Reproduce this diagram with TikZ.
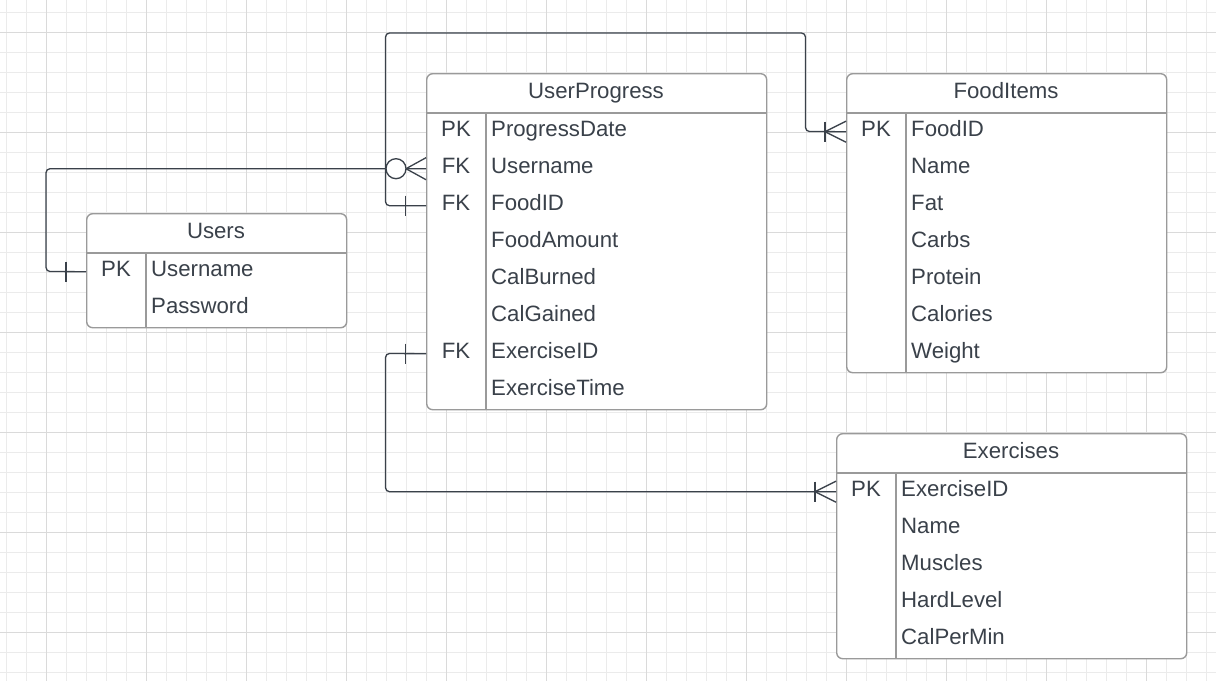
\documentclass[tikz,border=0pt]{standalone}
\usepackage{fontspec}
\setmainfont{Liberation Sans}
\usetikzlibrary{calc}
\definecolor{txt}{HTML}{3A414A}
\definecolor{bord}{HTML}{9A9A9A}
\definecolor{gminor}{HTML}{EBEBEB}
\definecolor{gmajor}{HTML}{DADADA}
\definecolor{lnk}{HTML}{3A414A}
\begin{document}
\begin{tikzpicture}[x=1pt,y=-1pt,
  tablebox/.style={draw=bord, line width=1.4pt, fill=white, rounded corners=6pt, inner sep=0pt, anchor=north west},
  rowbox/.style={inner sep=0pt, minimum height=37pt, anchor=north west},
  sepline/.style={draw=bord, line width=1.4pt},
  lbl/.style={font=\fontsize{22.2}{26}\selectfont, text=txt, inner sep=0pt},
  keylbl/.style={lbl, anchor=base},
  attrlbl/.style={lbl, anchor=base west},
  hdrlbl/.style={lbl, anchor=base},
  link/.style={draw=lnk, line width=1.3pt, rounded corners=4pt},
  tick/.style={draw=lnk, line width=1.3pt},
  gridminor/.style={draw=gminor, line width=1pt},
  gridmajor/.style={draw=gmajor, line width=1pt}
]
\useasboundingbox (0,0) rectangle (1216,681);
\fill[white] (0,0) rectangle (1216,681);
% grid
\foreach \gx in {6.5,26.5,...,1210} \draw[gridminor] (\gx,0) -- (\gx,681);
\foreach \gy in {12,32,...,680} \draw[gridminor] (0,\gy) -- (1216,\gy);
\foreach \gx in {46.5,146.5,...,1210} \draw[gridmajor] (\gx,0) -- (\gx,681);
\foreach \gy in {32,132,...,680} \draw[gridmajor] (0,\gy) -- (1216,\gy);

% UserProgress
\node[tablebox, minimum width=340pt, minimum height=336pt] (up) at (426,73) {};
\node[hdrlbl] (up-title) at (596,98) {UserProgress};
\draw[sepline] (426,113) -- (766,113);
\draw[sepline] (486,113) -- (486,409);
\foreach \k/\n/\i in {PK/ProgressDate/1, FK/Username/2, FK/FoodID/3, /FoodAmount/4, /CalBurned/5, /CalGained/6, FK/ExerciseID/7, /ExerciseTime/8} {
  \node[rowbox, minimum width=340pt] (up-r\i) at (426,{113+37*(\i-1)}) {};
  \node[keylbl] (up-k\i) at (456,{136.5+37*(\i-1)}) {\k};
  \node[attrlbl] (up-a\i) at (491,{136.5+37*(\i-1)}) {\n};
}

% FoodItems
\node[tablebox, minimum width=320pt, minimum height=299pt] (fi) at (846,73) {};
\node[hdrlbl] (fi-title) at (1006,98) {FoodItems};
\draw[sepline] (846,113) -- (1166,113);
\draw[sepline] (906,113) -- (906,372);
\foreach \k/\n/\i in {PK/FoodID/1, /Name/2, /Fat/3, /Carbs/4, /Protein/5, /Calories/6, /Weight/7} {
  \node[rowbox, minimum width=320pt] (fi-r\i) at (846,{113+37*(\i-1)}) {};
  \node[keylbl] (fi-k\i) at (876,{136.5+37*(\i-1)}) {\k};
  \node[attrlbl] (fi-a\i) at (911,{136.5+37*(\i-1)}) {\n};
}

% Users
\node[tablebox, minimum width=260pt, minimum height=114pt] (us) at (86,213) {};
\node[hdrlbl] (us-title) at (216,238) {Users};
\draw[sepline] (86,253) -- (346,253);
\draw[sepline] (146,253) -- (146,327);
\foreach \k/\n/\i in {PK/Username/1, /Password/2} {
  \node[rowbox, minimum width=260pt] (us-r\i) at (86,{253+37*(\i-1)}) {};
  \node[keylbl] (us-k\i) at (116,{276.5+37*(\i-1)}) {\k};
  \node[attrlbl] (us-a\i) at (151,{276.5+37*(\i-1)}) {\n};
}

% Exercises
\node[tablebox, minimum width=350pt, minimum height=225pt] (ex) at (836,433) {};
\node[hdrlbl] (ex-title) at (1011,458) {Exercises};
\draw[sepline] (836,473) -- (1186,473);
\draw[sepline] (896,473) -- (896,658);
\foreach \k/\n/\i in {PK/ExerciseID/1, /Name/2, /Muscles/3, /HardLevel/4, /CalPerMin/5} {
  \node[rowbox, minimum width=350pt] (ex-r\i) at (836,{473+37*(\i-1)}) {};
  \node[keylbl] (ex-k\i) at (866,{496.5+37*(\i-1)}) {\k};
  \node[attrlbl] (ex-a\i) at (901,{496.5+37*(\i-1)}) {\n};
}

% connector 1: Users.Username -> UserProgress.Username (one -- zero or many)
\coordinate (c1a) at (46,271.5);
\draw[link] (us-r1.west) -- (c1a) |- (up-r2.west);
\draw[tick] ($(us-r1.west)+(-20,-10)$) -- ($(us-r1.west)+(-20,10)$);
\draw[tick] ($(up-r2.west)+(-20,0)$) -- ($(up-r2.west)+(0,-11)$);
\draw[tick] ($(up-r2.west)+(-20,0)$) -- ($(up-r2.west)+(0,11)$);
\draw[tick, fill=white] ($(up-r2.west)+(-30,0)$) circle (10pt);

% connector 2: UserProgress.FoodID -> FoodItems.FoodID (one -- one or many)
\coordinate (c2a) at (385.5,33);
\coordinate (c2b) at (805.5,131.5);
\draw[link] (up-r3.west) -| (c2a) -| (c2b) -- (fi-r1.west);
\draw[tick] ($(up-r3.west)+(-20.5,-10)$) -- ($(up-r3.west)+(-20.5,10)$);
\draw[tick] ($(fi-r1.west)+(-21,-10)$) -- ($(fi-r1.west)+(-21,10)$);
\draw[tick] ($(fi-r1.west)+(-21,0)$) -- ($(fi-r1.west)+(0,-10.5)$);
\draw[tick] ($(fi-r1.west)+(-21,0)$) -- ($(fi-r1.west)+(0,10.5)$);

% connector 3: UserProgress.ExerciseID -> Exercises.ExerciseID (one -- one or many)
\coordinate (c3a) at (385.5,353.5);
\draw[link] (up-r7.west) -- (c3a) |- (ex-r1.west);
\draw[tick] ($(up-r7.west)+(-20.5,-10)$) -- ($(up-r7.west)+(-20.5,10)$);
\draw[tick] ($(ex-r1.west)+(-21,-10)$) -- ($(ex-r1.west)+(-21,10)$);
\draw[tick] ($(ex-r1.west)+(-21,0)$) -- ($(ex-r1.west)+(0,-10.5)$);
\draw[tick] ($(ex-r1.west)+(-21,0)$) -- ($(ex-r1.west)+(0,10.5)$);
\end{tikzpicture}
\end{document}
